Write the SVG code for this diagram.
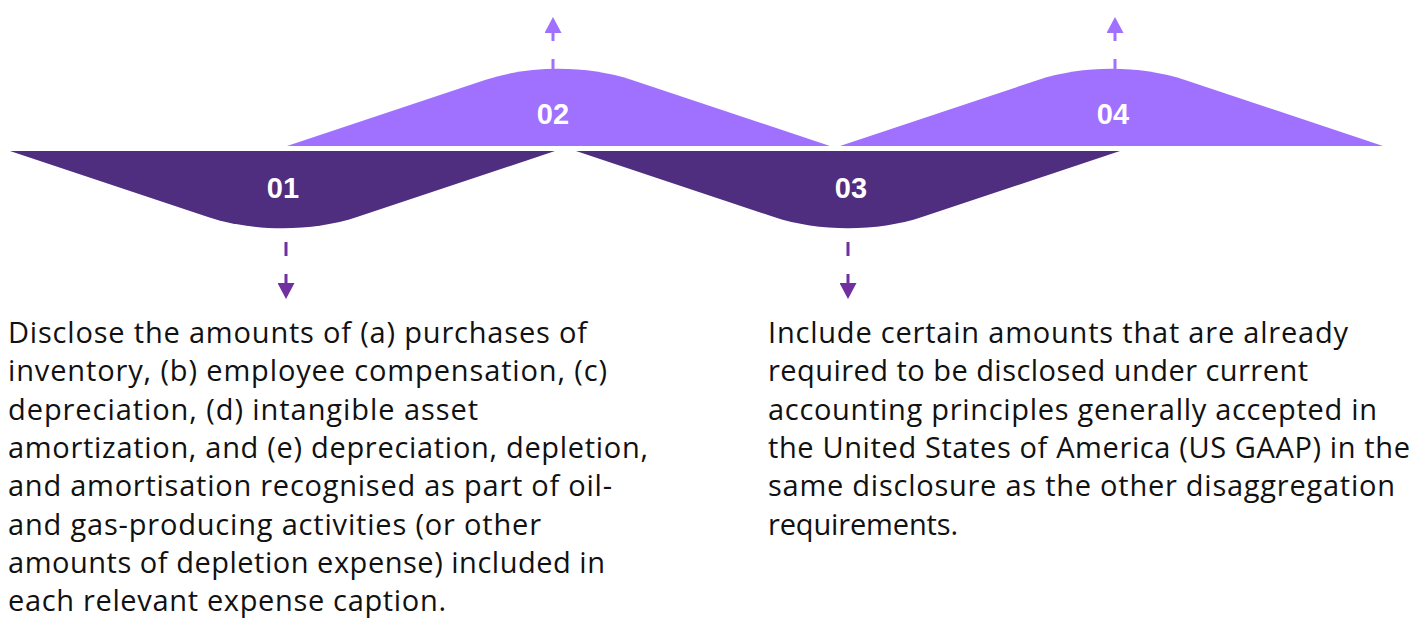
<svg xmlns="http://www.w3.org/2000/svg" width="1412" height="618" viewBox="0 0 1412 618">
  <style>
    .dark { fill: #4F2D7F; }
    .light { fill: #A070FF; }
    .num { font-family: "Liberation Sans", Arial, sans-serif; font-weight: bold; font-size: 29px; fill: #FFFFFF; text-anchor: middle; }
    .body { font-family: "Open Sans", "Liberation Sans", sans-serif; font-size: 29px; fill: #111111; }
    .down { stroke: #7030A0; stroke-width: 3; fill: none; stroke-dasharray: 14 18; }
    .up { stroke: #A070FF; stroke-width: 3; fill: none; stroke-dasharray: 11 18; }
  </style>
  <defs>
    <marker id="headDown" markerUnits="userSpaceOnUse" viewBox="0 0 16 17" refX="0" refY="8.5" markerWidth="16" markerHeight="17" orient="auto">
      <path d="M0,0 L16,8.5 L0,17 Z" fill="#7030A0"/>
    </marker>
    <marker id="headUp" markerUnits="userSpaceOnUse" viewBox="0 0 16 17" refX="0" refY="8.5" markerWidth="16" markerHeight="17" orient="auto">
      <path d="M0,0 L16,8.5 L0,17 Z" fill="#A070FF"/>
    </marker>
  </defs>

  <g id="node-01">
    <path class="dark" d="M10,151 H555 L357,217 C312,232 253,232 208,217 Z"/>
    <text class="num" x="283" y="198">01</text>
  </g>

  <g id="node-02">
    <path class="light" d="M287,146 H830 L632,80 C587,65 530,65 485,80 Z"/>
    <text class="num" x="553" y="124">02</text>
  </g>

  <g id="node-03">
    <path class="dark" d="M576,151 H1120 L922,217 C877,232 819,232 774,217 Z"/>
    <text class="num" x="851" y="198">03</text>
  </g>

  <g id="node-04">
    <path class="light" d="M840,146 H1383 L1185,80 C1140,65 1083,65 1038,80 Z"/>
    <text class="num" x="1113" y="124">04</text>
  </g>

  <g id="connectors">
    <path class="down" d="M286,242 V283" marker-end="url(#headDown)"/>
    <path class="down" d="M848,242 V283" marker-end="url(#headDown)"/>
    <path class="up" d="M553,70 V33" marker-end="url(#headUp)"/>
    <path class="up" d="M1115,70 V33" marker-end="url(#headUp)"/>
  </g>

  <g id="text-01">
    <text class="body" x="8" y="343" textLength="579">Disclose the amounts of (a) purchases of</text>
    <text class="body" x="8" y="381.3" textLength="599">inventory, (b) employee compensation, (c)</text>
    <text class="body" x="8" y="419.7" textLength="470">depreciation, (d) intangible asset</text>
    <text class="body" x="8" y="458" textLength="640">amortization, and (e) depreciation, depletion,</text>
    <text class="body" x="8" y="496.3" textLength="604">and amortisation recognised as part of oil-</text>
    <text class="body" x="8" y="534.7" textLength="533">and gas-producing activities (or other</text>
    <text class="body" x="8" y="573" textLength="597">amounts of depletion expense) included in</text>
    <text class="body" x="8" y="611.3" textLength="438">each relevant expense caption.</text>
  </g>

  <g id="text-03">
    <text class="body" x="768" y="343" textLength="580">Include certain amounts that are already</text>
    <text class="body" x="768" y="381.3" textLength="540">required to be disclosed under current</text>
    <text class="body" x="768" y="419.7" textLength="609">accounting principles generally accepted in</text>
    <text class="body" x="768" y="458" textLength="642">the United States of America (US GAAP) in the</text>
    <text class="body" x="768" y="496.3" textLength="627">same disclosure as the other disaggregation</text>
    <text class="body" x="768" y="534.7" textLength="190">requirements.</text>
  </g>
</svg>
